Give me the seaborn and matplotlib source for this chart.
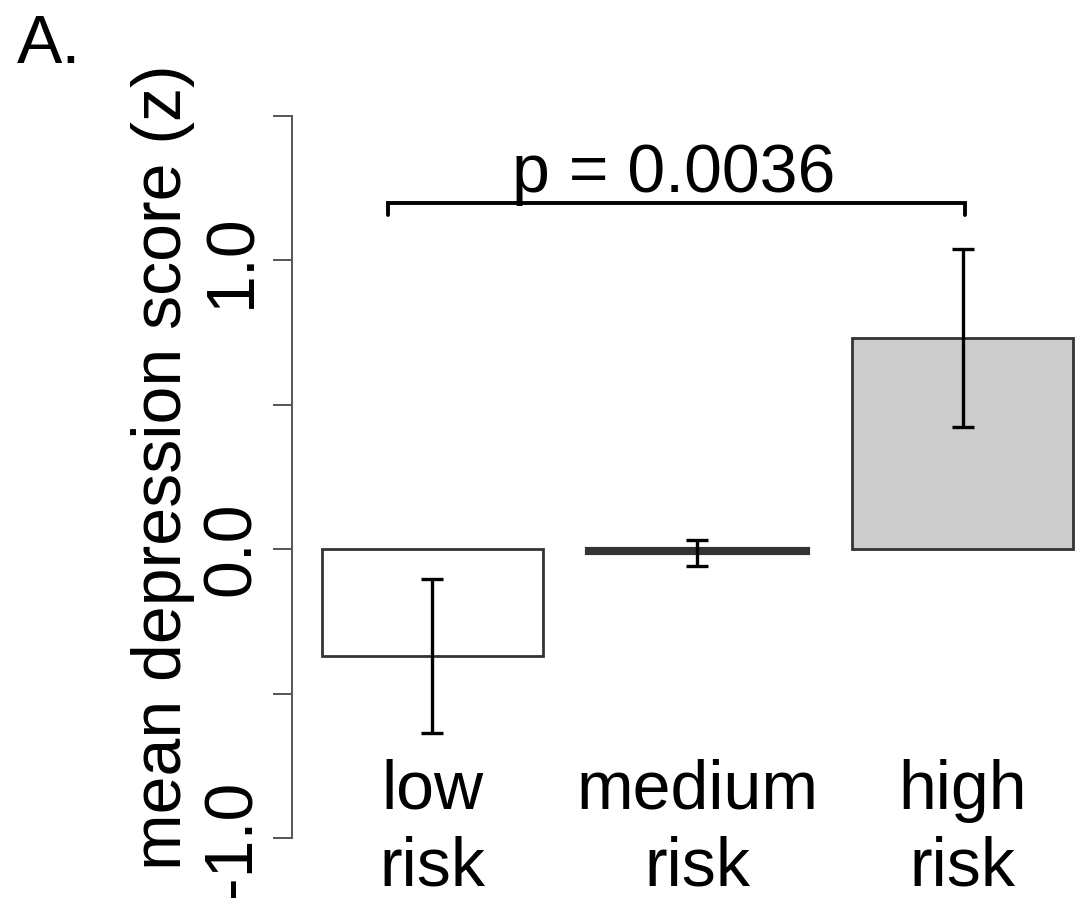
import numpy as np
import pandas as pd
import seaborn as sns
import matplotlib.pyplot as plt

### data
groups = ["low\nrisk", "medium\nrisk", "high\nrisk"]
means = [-0.37, -0.012, 0.73]
errs = [0.266, 0.045, 0.308]
bar_colors = ["#ffffff", "#ffffff", "#cccccc"]
yticks = [-1.0, -0.5, 0.0, 0.5, 1.0, 1.5]
ytick_labels = ["-1.0", "", "0.0", "", "1.0", ""]
p_text = "p = 0.0036"

df = pd.DataFrame({"group": groups, "score": means})

sns.set_style("white")
plt.rcParams['font.family'] = ['Liberation Sans', 'DejaVu Sans']
plt.rcParams['text.color'] = 'black'
FS = 49

fig = plt.figure(figsize=(10.92, 9.02), dpi=100)
ax = fig.add_axes([292 / 1092, 35 / 902, 800 / 1092, 780 / 902])

sns.barplot(data=df, x="group", y="score", hue="group", palette=bar_colors,
            edgecolor="#333333", linewidth=2.0, width=0.833, errorbar=None,
            legend=False, ax=ax)
# the medium bar is so flat it shows as one thick dark line
ax.patches[1].set_linewidth(3.0)
ax.patches[1].set_facecolor("#333333")

ax.errorbar(np.arange(len(groups)), means, yerr=errs, fmt="none",
            ecolor="black", elinewidth=2.4, capsize=8, capthick=2.4, zorder=5)

ax.set_xlim(-0.528, 2.487)
ax.set_ylim(-1.1, 1.6)

# significance bracket between low and high
bx = [-0.166, -0.166, 2.008, 2.008]
by = [1.156, 1.197, 1.197, 1.156]
ax.plot(bx, by, color="black", lw=2.8, clip_on=False, solid_joinstyle="miter")
ax.text(0.909, 1.235, p_text, ha="center", va="baseline", fontsize=FS,
        color="black")

# axes styling (R base look)
for s in ["top", "right", "bottom"]:
    ax.spines[s].set_visible(False)
ax.spines["left"].set_bounds(-1.0, 1.5)
ax.spines["left"].set_color("#555555")
ax.spines["left"].set_linewidth(1.4)

ax.set_yticks(yticks)
ax.set_yticklabels(ytick_labels, rotation=90, va="center", fontsize=FS)
ax.tick_params(axis="y", left=True, length=14, width=1.4, color="#555555",
               pad=6, labelcolor="black")

ax.set_xlabel("")
ax.set_xticks(range(len(groups)))
ax.set_xticklabels(groups, fontsize=FS)
ax.tick_params(axis="x", length=0, pad=-78, labelcolor="black")
for lbl in ax.get_xticklabels():
    lbl.set_linespacing(1.25)

ax.set_ylabel("mean depression score (z)", fontsize=FS, va="center",
              color="black")
ax.yaxis.set_label_coords(-0.161, 0.513)

fig.text(0.015, 0.930, "A.", fontsize=FS, ha="left", va="baseline",
         color="black")

fig.savefig("out.png", dpi=100, facecolor="white")
